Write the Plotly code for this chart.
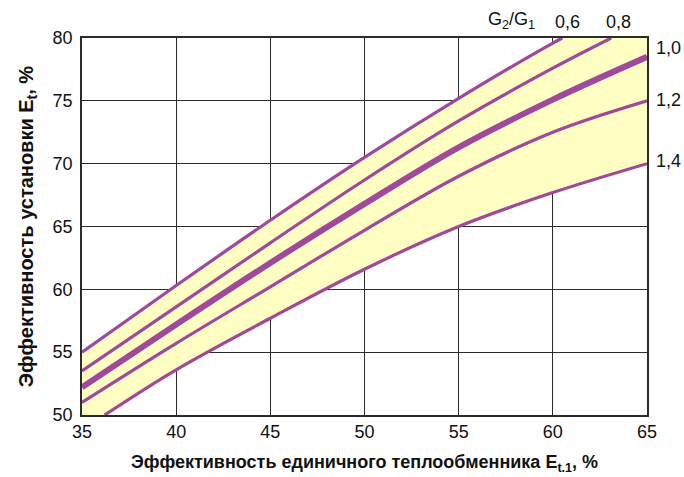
import plotly.graph_objects as go

# Data
ratio_labels = ["0,6", "0,8", "1,0", "1,2", "1,4"]
x_06 = [35, 40, 45, 50, 55, 60, 60.5]
y_06 = [55.0, 60.3, 65.5, 70.5, 75.2, 79.6, 80.0]
x_08 = [35, 40, 45, 50, 55, 60, 63.1]
y_08 = [53.5, 58.6, 63.7, 68.7, 73.4, 77.6, 80.0]
x_10 = [35, 40, 45, 50, 55, 60, 65]
y_10 = [52.2, 57.2, 62.1, 66.8, 71.3, 75.1, 78.5]
x_12 = [35, 40, 45, 50, 55, 60, 65]
y_12 = [51.0, 55.7, 60.2, 64.7, 69.0, 72.5, 75.0]
x_14 = [36.2, 40, 45, 50, 55, 60, 65]
y_14 = [50.0, 53.6, 57.7, 61.6, 65.0, 67.7, 70.0]

x_ticks = [35, 40, 45, 50, 55, 60, 65]
y_ticks = [50, 55, 60, 65, 70, 75, 80]
x_range = [35, 65]
y_range = [50, 80]

purple = "#A0489A"
yellow = "#FFFFC4"
grid = "#2b2b2b"

fig = go.Figure()

# Yellow band between the 0,6 and 1,4 curves, bounded by plot edges
poly_x = x_06 + [x_range[1]] + x_14[::-1] + [x_range[0]]
poly_y = y_06 + [y_range[1]] + y_14[::-1] + [y_range[0]]
fig.add_trace(go.Scatter(x=poly_x, y=poly_y, fill="toself", fillcolor=yellow,
                         line=dict(width=0, shape="spline", smoothing=0.3), mode="lines",
                         hoverinfo="skip", showlegend=False))

series = [(x_06, y_06, 3.2), (x_08, y_08, 3.2), (x_10, y_10, 6), (x_12, y_12, 3.2), (x_14, y_14, 3.2)]
for (xs, ys, w), lab in zip(series, ratio_labels):
    fig.add_trace(go.Scatter(x=xs, y=ys, mode="lines", name=lab,
                             line=dict(color=purple, width=w, shape="spline", smoothing=1.0),
                             showlegend=False, cliponaxis=True))

font_main = dict(family="Liberation Sans, Arial, sans-serif", size=18, color="#111")

annotations = [
    dict(x=x_06[-1], y=y_range[1], text="0,6", xanchor="center", yanchor="bottom", yshift=4, xshift=5),
    dict(x=x_08[-1], y=y_range[1], text="0,8", xanchor="center", yanchor="bottom", yshift=4, xshift=7),
    dict(x=57.8, y=y_range[1], text="G<sub>2</sub>/G<sub>1</sub>", xanchor="center", yanchor="bottom", yshift=4, xshift=0),
    dict(x=x_range[1], y=y_10[-1], text="1,0", xanchor="left", yanchor="middle", xshift=7, yshift=9),
    dict(x=x_range[1], y=y_12[-1], text="1,2", xanchor="left", yanchor="middle", xshift=7, yshift=1),
    dict(x=x_range[1], y=y_14[-1], text="1,4", xanchor="left", yanchor="middle", xshift=7, yshift=3),
]
for a in annotations:
    fig.add_annotation(xref="x", yref="y", showarrow=False, font=font_main, **a)

fig.update_layout(
    width=684, height=477,
    margin=dict(l=82, r=37, t=38, b=62),
    paper_bgcolor="white", plot_bgcolor="white",
    font=font_main,
)
fig.update_xaxes(range=x_range, tickvals=x_ticks, ticktext=[str(v) for v in x_ticks],
                 showgrid=True, gridcolor=grid, gridwidth=1.3, zeroline=False,
                 showline=True, linecolor=grid, linewidth=1.5, mirror=True,
                 ticks="", tickfont=dict(size=18), automargin=False,
                 title=dict(text="<b>Эффективность единичного теплообменника E<sub>t.1</sub>, %</b>",
                            font=dict(size=18), standoff=14))
fig.update_yaxes(range=y_range, tickvals=y_ticks, ticktext=[str(v) for v in y_ticks],
                 showgrid=True, gridcolor=grid, gridwidth=1.3, zeroline=False,
                 showline=True, linecolor=grid, linewidth=1.5, mirror=True,
                 ticks="", tickfont=dict(size=18), ticklabelstandoff=4, automargin=False,
                 title=dict(text="<b>Эффективность установки E<sub>t</sub>, %</b>",
                            font=dict(size=20), standoff=14))

fig.write_html("out.html", config={"displayModeBar": False},
               post_script="document.body.style.margin='0px';document.body.style.overflow='hidden';")
